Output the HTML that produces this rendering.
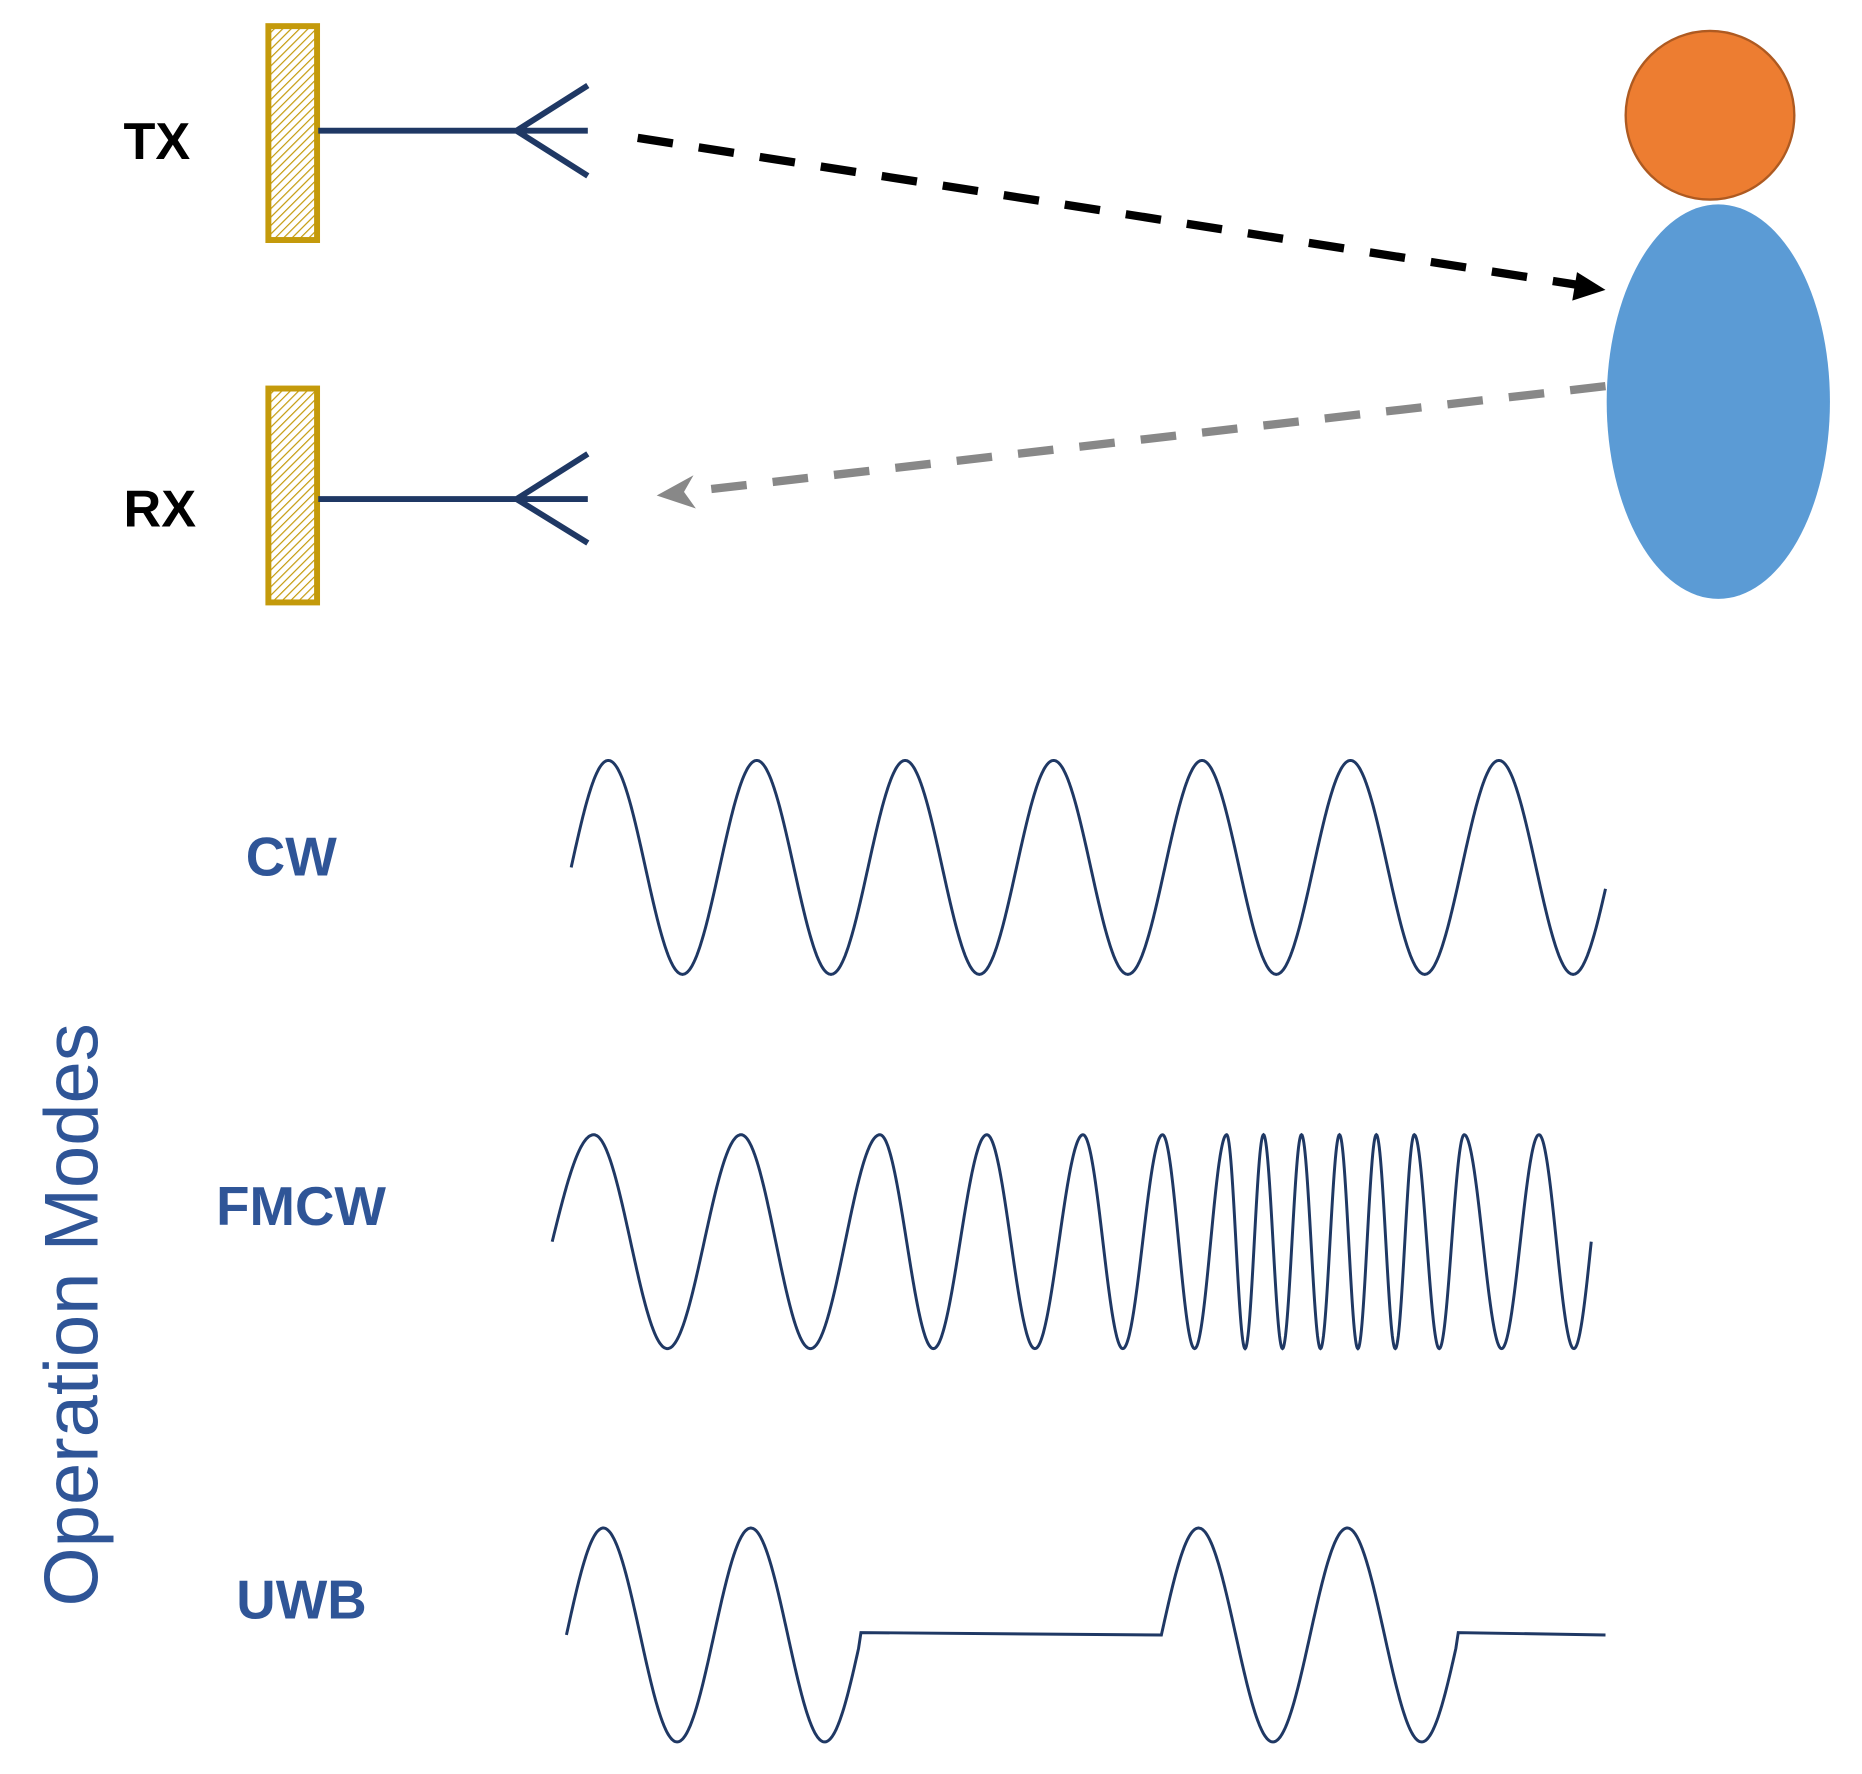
<!DOCTYPE html>
<html><head><meta charset="utf-8"><style>
html,body{margin:0;padding:0;background:#fff}
svg{display:block}
</style></head><body>
<svg id="s" width="1862" height="1774" viewBox="0 0 1568 1493" preserveAspectRatio="none" xmlns="http://www.w3.org/2000/svg">
<defs>
<pattern id="h" width="5" height="5" patternUnits="userSpaceOnUse" patternTransform="rotate(45)">
<rect width="5" height="5" fill="#fff"/><line x1="0" y1="0" x2="0" y2="5" stroke="#C49A0B" stroke-width="2"/>
</pattern>
</defs>
<rect x="226" y="22" width="41" height="180" fill="url(#h)" stroke="#C49A0B" stroke-width="5"/>
<rect x="226" y="327" width="41" height="180" fill="url(#h)" stroke="#C49A0B" stroke-width="5"/>
<g stroke="#1F3864" stroke-width="5" fill="none">
<path d="M268,110 H495 M495,72 L435,110 L495,148"/>
<path d="M268,420 H495 M495,382 L435,420 L495,457"/>
</g>
<text x="104" y="134" font-family="Liberation Sans, sans-serif" font-weight="bold" font-size="44" fill="#000">TX</text>
<text x="104" y="443" font-family="Liberation Sans, sans-serif" font-weight="bold" font-size="44" fill="#000">RX</text>
<line x1="537" y1="116" x2="1330" y2="240" stroke="#000" stroke-width="7" stroke-dasharray="30,22"/>
<path d="M1352,244 L1324,253 L1328,229z" fill="#000"/>
<line x1="1352" y1="325" x2="578" y2="414" stroke="#888" stroke-width="7" stroke-dasharray="30,22"/>
<path d="M553,417 L584,400 L576,414 L586,428z" fill="#888"/>
<circle cx="1440" cy="97" r="71" fill="#ED7D31" stroke="#AE5A21" stroke-width="2"/>
<ellipse cx="1447" cy="338" rx="94" ry="166" fill="#5B9BD5"/>
<g font-family="Liberation Sans, sans-serif" font-weight="bold" font-size="46" fill="#2F5597">
<text x="207" y="737">CW</text>
<text x="182" y="1031">FMCW</text>
<text x="199" y="1362">UWB</text>
</g>
<text transform="translate(82,1352) rotate(-90)" font-family="Liberation Sans, sans-serif" font-size="64" fill="#2F5597">Operation Modes</text>
<g id="w" stroke="#1F3864" stroke-width="2.5" fill="none"></g>
</svg>
<script>
var g=document.getElementById('w');
function add(d){var p=document.createElementNS('http://www.w3.org/2000/svg','path');p.setAttribute('d',d);g.appendChild(p);}
function wave(knots,cy,amp){var d='';for(var i=0;i<knots.length-1;i++){var a=knots[i],b=knots[i+1];for(var x=a[0];x<=b[0];x+=0.5){var ph=a[1]+(b[1]-a[1])*(x-a[0])/(b[0]-a[0]);var y=cy-amp*Math.sin(2*Math.PI*ph);d+=(d?'L':'M')+x.toFixed(1)+','+y.toFixed(1);}}return d;}
add(wave([[481,0],[1352,(1352-481)/125]],730,90));
var pk=[500,624,741,831,912,979,1033,1064,1096,1128,1159,1191,1233,1296];
var k=[[465,0]];pk.forEach(function(x,i){k.push([x,0.25+i]);});k.push([1340,14]);
add(wave(k,1045,90));
var w1=wave([[477,0],[723,1.98]],1376,90);
var w2=wave([[978,0],[1226,1.98]],1376,90).replace(/^M/,'L');
add(w1+'L725,1374 L978,1376'+w2+'L1228,1374 L1352,1376');
</script>
</body></html>
